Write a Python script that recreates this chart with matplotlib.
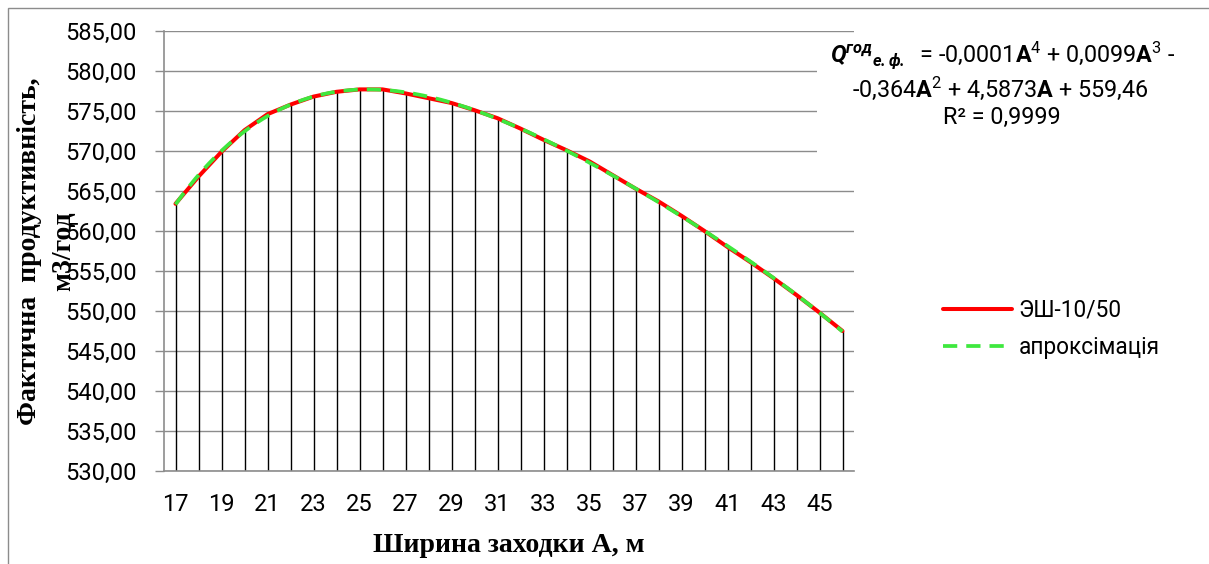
import numpy as np
import matplotlib
matplotlib.use("Agg")
import matplotlib.pyplot as plt
from matplotlib.patches import Rectangle

# ---- data ----
widths = [17, 18, 19, 20, 21, 22, 23, 24, 25, 26, 27, 28, 29, 30, 31,
          32, 33, 34, 35, 36, 37, 38, 39, 40, 41, 42, 43, 44, 45, 46]
productivity = [563.4, 566.8, 569.9, 572.6, 574.6, 575.8, 576.8, 577.4, 577.7, 577.7,
                577.2, 576.6, 576.0, 575.1, 574.1, 572.8, 571.4, 570.1, 568.7, 567.0,
                565.3, 563.7, 561.9, 560.0, 558.0, 556.1, 554.1, 552.0, 549.8, 547.5]
series_name = "ЭШ-10/50"
trend_name = "апроксімація"
y_ticks = [530, 535, 540, 545, 550, 555, 560, 565, 570, 575, 580, 585]
x_label = "Ширина заходки А, м"
y_label_1 = "Фактична  продуктивність,"
y_label_2 = "м3/год"
eq_line1 = r"$\mathbfit{Q}^{\mathbfit{год}}{}_{\mathbfit{е.ф.}}$  = -0,0001$\mathbf{A}^{4}$ + 0,0099$\mathbf{A}^{3}$ -"
eq_line2 = r"-0,364$\mathbf{A}^{2}$ + 4,5873$\mathbf{A}$ + 559,46"
eq_line3 = "R² = 0,9999"

W, H = 1209, 564
plt.rcParams['mathtext.fontset'] = 'custom'
plt.rcParams['mathtext.rm'] = 'Roboto'
plt.rcParams['mathtext.bf'] = 'Roboto:bold'
plt.rcParams['mathtext.it'] = 'Roboto:italic'
plt.rcParams['mathtext.bfit'] = 'Roboto:italic:bold'

SANS = 'Roboto'
SERIF = 'Liberation Serif'
FS = 16.3
TFS = 17
EFS = 16.8
GRID = '#8c8c8c'

fig = plt.figure(figsize=(W / 100, H / 100), dpi=100)
ax = fig.add_axes([164 / W, 1 - 471 / H, (854 - 164) / W, (471 - 31) / H])

x = np.arange(len(widths))
yv = np.array(productivity)

# drop lines
ax.vlines(x, 530, yv, colors='black', lw=1.0, zorder=2)
# data line
red, = ax.plot(x, yv, color='#ff0000', lw=2.9, zorder=3, solid_capstyle='round')
# polynomial trendline (order 4) fitted to the data
t = np.arange(1, len(widths) + 1)
coef = np.polyfit(t, yv, 4)
tt = np.linspace(1, len(widths), 300)
green, = ax.plot(tt - 1, np.polyval(coef, tt), color='#3ee83e', lw=2.7,
                 dashes=(3.8, 2.4), zorder=4)

ax.set_xlim(-0.5, len(widths) - 0.5)
ax.set_ylim(530, 585)
ax.set_yticks(y_ticks)
ax.set_yticklabels([f"{v:.2f}".replace('.', ',') for v in y_ticks],
                   fontsize=TFS, family=SANS)
ax.set_xticks(x[::2])
ax.set_xticklabels([str(w) for w in widths[::2]], fontsize=TFS, family=SANS)
ax.tick_params(axis='y', length=6.5, width=1, color=GRID, pad=13)
ax.tick_params(axis='x', length=0, pad=16)
ax.yaxis.grid(True, color=GRID, lw=1.0)
ax.set_axisbelow(True)
for s in ['top', 'right']:
    ax.spines[s].set_visible(False)
for s in ['left', 'bottom']:
    ax.spines[s].set_color(GRID)
    ax.spines[s].set_linewidth(1.2)

# axis titles
fig.text(30 / W, 1 - 251 / H, y_label_1, rotation=90, ha='center', va='center',
         family=SERIF, weight='bold', fontsize=20)
fig.text(64 / W, 1 - 251 / H, y_label_2, rotation=90, ha='center', va='center',
         family=SERIF, weight='bold', fontsize=20)
fig.text(509 / W, 1 - 552 / H, x_label, ha='center', va='baseline',
         family=SERIF, weight='bold', fontsize=20)

# legend
ax.legend([red, green], [series_name, trend_name], loc='center left',
          bbox_to_anchor=(943 / W, 1 - 329 / H), bbox_transform=fig.transFigure,
          frameon=False, borderpad=0, borderaxespad=0, handlelength=3.05,
          handletextpad=0.3, labelspacing=0.65, prop={'family': SANS, 'size': FS})

# equation box
fig.add_artist(Rectangle((817 / W, 1 - 186 / H), 378 / W, 150 / H,
                         transform=fig.transFigure, facecolor='white',
                         edgecolor='none', zorder=1))
fig.text(1003 / W, 1 - 55 / H, eq_line1, ha='center', va='center',
         family=SANS, fontsize=EFS, zorder=2)
fig.text(1000 / W, 1 - 88 / H, eq_line2, ha='center', va='center',
         family=SANS, fontsize=EFS, zorder=2)
fig.text(1002 / W, 1 - 117 / H, eq_line3, ha='center', va='center',
         family=SANS, fontsize=EFS, zorder=2)

# chart border
fig.add_artist(Rectangle((8 / W, -0.2), 1.5, 1.2 - 8 / H, transform=fig.transFigure,
                         fill=False, edgecolor=GRID, lw=1.0, zorder=0))

fig.savefig('out.png', dpi=100)
